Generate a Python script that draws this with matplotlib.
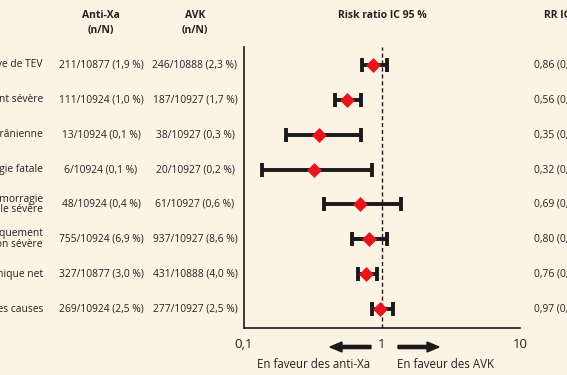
import matplotlib
matplotlib.use("Agg")
import matplotlib.pyplot as plt
from matplotlib.patches import FancyArrow
from matplotlib.transforms import blended_transform_factory
import numpy as np

plt.rcParams['font.family'] = ['Open Sans', 'DejaVu Sans']

labels = ["Récidive de TEV", "Saignement sévère", "Hémorragie intracrânienne",
          "Hémorragie fatale", "Hémorragie\ngastro-intestinale sévère",
          "Saignement cliniquement\npertinent non sévère", "Bénéfice clinique net",
          "Mortalité toutes causes"]
antixa = ["211/10877 (1,9 %)", "111/10924 (1,0 %)", "13/10924 (0,1 %)", "6/10924 (0,1 %)",
          "48/10924 (0,4 %)", "755/10924 (6,9 %)", "327/10877 (3,0 %)", "269/10924 (2,5 %)"]
avk = ["246/10888 (2,3 %)", "187/10927 (1,7 %)", "38/10927 (0,3 %)", "20/10927 (0,2 %)",
       "61/10927 (0,6 %)", "937/10927 (8,6 %)", "431/10888 (4,0 %)", "277/10927 (2,5 %)"]
rr = [0.86, 0.56, 0.35, 0.32, 0.69, 0.80, 0.76, 0.97]
lo = [0.72, 0.46, 0.20, 0.135, 0.38, 0.61, 0.67, 0.84]
hi = [1.08, 0.70, 0.70, 0.84, 1.38, 1.09, 0.92, 1.21]
rr_text = ["0,86 (0,72-1,04)", "0,56 (0,46-0,70)", "0,35 (0,20-0,70)", "0,32 (0,14-0,84)",
           "0,69 (0,38-1,38)", "0,80 (0,61-1,09)", "0,76 (0,67-0,92)", "0,97 (0,84-1,21)"]
xticks = [0.1, 1, 10]
xticklabels = ["0,1", "1", "10"]

W, H = 567, 375
bg = '#fdf3e5'
fig = plt.figure(figsize=(W/100, H/100), dpi=100, facecolor=bg)
ax = fig.add_axes([244/W, 1-328/H, 276/W, (328-47)/H])
ax.set_facecolor(bg)
ax.set_xscale('log')
ax.set_xlim(0.1, 10)
ax.set_ylim(7.545, -0.516)

y = np.arange(len(rr))
rr_a = np.array(rr); lo_a = np.array(lo); hi_a = np.array(hi)
ax.errorbar(rr_a, y, xerr=[rr_a-lo_a, hi_a-rr_a], fmt='none', ecolor='#1a1a1a',
            elinewidth=2.8, capsize=5, capthick=2.8, zorder=2)
ax.scatter(rr_a, y, marker='D', s=58, color='#e8141c', zorder=3, linewidths=0)
ax.axvline(1, color='#1a1a1a', lw=1, ls=(0, (3, 2)), zorder=1)

for s in ['top', 'right']:
    ax.spines[s].set_visible(False)
for s in ['left', 'bottom']:
    ax.spines[s].set_linewidth(1.2)
    ax.spines[s].set_color('#1a1a1a')
ax.set_yticks([])
ax.set_xticks(xticks)
ax.set_xticklabels(xticklabels, fontsize=9.5, color='#222222')
ax.minorticks_off()
ax.tick_params(axis='x', length=0, pad=7)

tr = blended_transform_factory(fig.transFigure, ax.transData)
fs = 7.4
for i in range(len(rr)):
    ax.text(43/W, i, labels[i], transform=tr, ha='right', va='center', fontsize=fs,
            color='#222222', linespacing=0.95, clip_on=False)
    ax.text(101/W, i, antixa[i], transform=tr, ha='center', va='center', fontsize=fs,
            color='#222222', clip_on=False)
    ax.text(195/W, i, avk[i], transform=tr, ha='center', va='center', fontsize=fs,
            color='#222222', clip_on=False)
    ax.text(534/W, i, rr_text[i], transform=tr, ha='left', va='center', fontsize=fs,
            color='#222222', clip_on=False)

hfs = 7.5
for xx, t1, t2 in [(101, "Anti-Xa", "(n/N)"), (195, "AVK", "(n/N)")]:
    fig.text(xx/W, 1-15/H, t1, ha='center', va='center', fontsize=hfs, weight='bold', color='#222222')
    fig.text(xx/W, 1-30/H, t2, ha='center', va='center', fontsize=hfs, weight='bold', color='#222222')
fig.text(382/W, 1-15/H, "Risk ratio IC 95 %", ha='center', va='center', fontsize=hfs, weight='bold', color='#222222')
fig.text(544/W, 1-15/H, "RR IC 95 %", ha='left', va='center', fontsize=hfs, weight='bold', color='#222222')

for x0, dx in [(371, -41), (398, 41)]:
    fig.patches.append(FancyArrow(x0/W, 1-347/H, dx/W, 0, width=3.2/H,
                       head_width=10/H, head_length=12/W, length_includes_head=True,
                       transform=fig.transFigure, color='#1a1a1a', figure=fig))
fig.text(370/W, 1-365/H, "En faveur des anti-Xa", ha='right', va='center', fontsize=8.3, color='#222222')
fig.text(397/W, 1-365/H, "En faveur des AVK", ha='left', va='center', fontsize=8.3, color='#222222')

fig.savefig("out.png", dpi=100, facecolor=bg)
